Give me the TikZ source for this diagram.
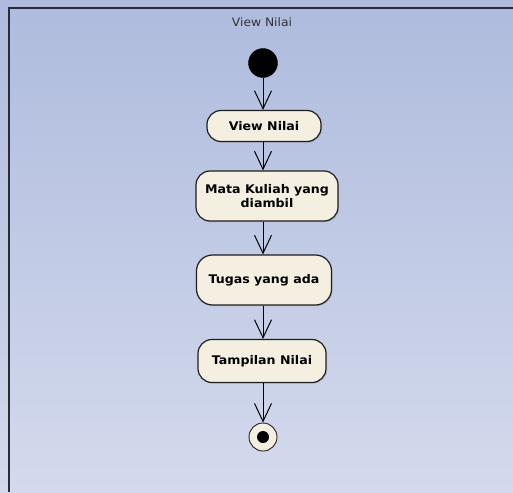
\documentclass[tikz,border=0pt]{standalone}
\usepackage{fontspec}
\setmainfont{DejaVu Sans}
\newfontfamily\diagfont[FakeStretch=1.06]{DejaVu Sans}
\usetikzlibrary{arrows.meta,shadows}

\definecolor{bgtop}{RGB}{174,187,221}
\definecolor{bgbot}{RGB}{212,218,237}
\definecolor{framecol}{RGB}{40,44,56}
\definecolor{actfill}{RGB}{245,239,226}
\definecolor{actline}{RGB}{30,30,30}
\definecolor{titlecol}{RGB}{50,50,55}

\tikzset{
  activity/.style={draw=actline, line width=1.2pt, fill=actfill,
    rounded corners=14pt, align=center, inner sep=0pt,
    font=\diagfont\fontsize{11.9}{13.5}\selectfont\bfseries,
    drop shadow={shadow xshift=1.2pt, shadow yshift=-1.2pt, opacity=.25}},
  initnode/.style={circle, fill=black, draw=black, minimum size=29pt, inner sep=0pt},
  finalnode/.style={circle, fill=actfill, draw=actline, line width=0.9pt,
    minimum size=28pt, inner sep=0pt},
  flow/.style={draw=black, line width=1pt,
    -{Straight Barb[length=18pt, width=17pt, line width=1pt]}}
}

\begin{document}
\begin{tikzpicture}[x=1pt, y=-1pt]
  % canvas with vertical gradient
  \useasboundingbox (0,0) rectangle (513,492);
  \shade[top color=bgtop, bottom color=bgbot] (0,0) rectangle (513,492);
  % frame of the activity diagram
  \draw[framecol, line width=2pt] (8.5,492) -- (8.5,8.5) -- (513,8.5);

  % title
  \node[font=\diagfont\fontsize{11.6}{13}\selectfont, text=titlecol] (title) at (262,22) {View Nilai};

  % nodes
  \node[initnode] (start) at (263,63) {};
  \node[activity, minimum width=114pt, minimum height=31pt] (n1) at (264,126) {View Nilai};
  \node[activity, minimum width=142pt, minimum height=50pt] (n2) at (267,196) {Mata Kuliah yang\\diambil};
  \node[activity, minimum width=135pt, minimum height=50pt, rounded corners=16pt] (n3) at (264,280) {Tugas yang ada};
  \node[activity, minimum width=128pt, minimum height=43pt] (n4) at (262,361) {Tampilan Nilai};
  \node[finalnode] (stop) at (263,437) {};
  \fill[black] (stop.center) circle (6pt);

  % control flows
  \draw[flow] (start.south) -- (n1.north -| start);
  \draw[flow] (n1.south -| start) -- (n2.north -| start);
  \draw[flow] (n2.south -| start) -- (n3.north -| start);
  \draw[flow] (n3.south -| start) -- (n4.north -| start);
  \draw[flow] (n4.south -| start) -- (stop.north);
\end{tikzpicture}
\end{document}
